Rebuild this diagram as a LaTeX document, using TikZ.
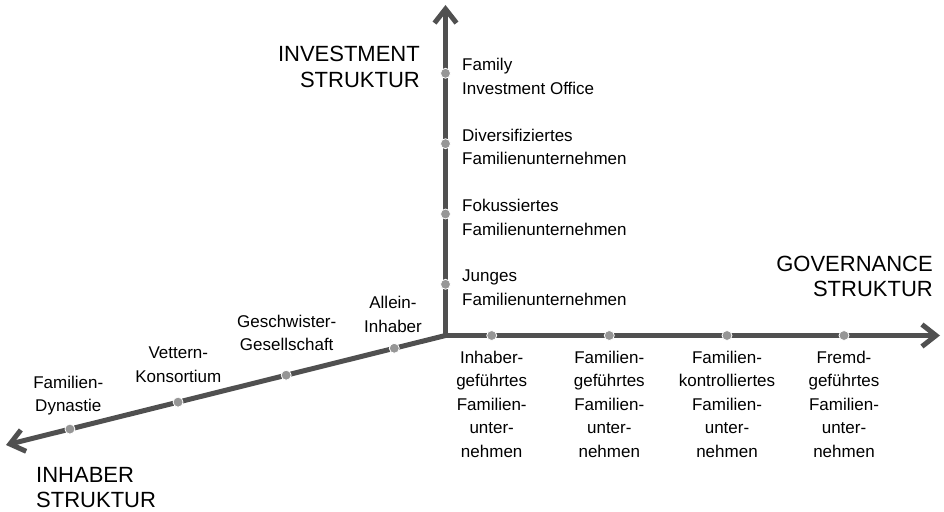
\documentclass[tikz,border=0pt]{standalone}
\usepackage{fontspec}
\setmainfont{Liberation Sans}
\usetikzlibrary{arrows.meta,calc}
\definecolor{axisgray}{RGB}{80,80,80}
\definecolor{dotgray}{RGB}{150,150,150}
\begin{document}
\begin{tikzpicture}[x=1pt,y=-1pt,
  axisline/.style={draw=axisgray,line width=5pt,
    -{Straight Barb[length=14pt,width=22pt,line width=5pt]}},
  axisdot/.style={circle,fill=dotgray,draw=white,line width=0.8pt,minimum size=10pt,inner sep=0pt},
  lbl/.style={inner sep=0pt,font=\fontsize{17}{23.5}\selectfont},
  ttl/.style={inner sep=0pt,font=\fontsize{22}{25}\selectfont},
]
\useasboundingbox (0,0) rectangle (944,511);
\coordinate (O) at (445.5,335.5);
\coordinate (T) at (445.5,5);
\coordinate (R) at (940,335.5);
\coordinate (L) at (6,445);
\draw[axisline] (O) -- (T);
\draw[axisline] (O) -- (R);
\draw[axisline] (O) -- (L);
\fill[axisgray] (443,333) rectangle (448,338);
% vertical dots
\node[axisdot] (v1) at (445.5,284.3) {};
\node[axisdot] (v2) at (445.5,214) {};
\node[axisdot] (v3) at (445.5,143.7) {};
\node[axisdot] (v4) at (445.5,73.3) {};
% horizontal dots
\node[axisdot] (h1) at (491.7,335.5) {};
\node[axisdot] (h2) at (609.3,335.5) {};
\node[axisdot] (h3) at (727,335.5) {};
\node[axisdot] (h4) at (844,335.5) {};
% diagonal dots
\node[axisdot] (d1) at ($(O)!0.1165!(L)$) {};
\node[axisdot] (d2) at ($(O)!0.3625!(L)$) {};
\node[axisdot] (d3) at ($(O)!0.6085!(L)$) {};
\node[axisdot] (d4) at ($(O)!0.8545!(L)$) {};
% vertical labels (base = last line)
\node[lbl,anchor=base west,align=left] (vl1) at (462,305.3) {Junges\\Familienunternehmen};
\node[lbl,anchor=base west,align=left] (vl2) at (462,235) {Fokussiertes\\Familienunternehmen};
\node[lbl,anchor=base west,align=left] (vl3) at (462,164.7) {Diversifiziertes\\Familienunternehmen};
\node[lbl,anchor=base west,align=left] (vl4) at (462,94.3) {Family\\Investment Office};
% horizontal labels
\node[lbl,anchor=base,align=center] (hl1) at (491.7,457) {Inhaber-\\geführtes\\Familien-\\unter-\\nehmen};
\node[lbl,anchor=base,align=center] (hl2) at (609.3,457) {Familien-\\geführtes\\Familien-\\unter-\\nehmen};
\node[lbl,anchor=base,align=center] (hl3) at (727,457) {Familien-\\kontrolliertes\\Familien-\\unter-\\nehmen};
\node[lbl,anchor=base,align=center] (hl4) at (844,457) {Fremd-\\geführtes\\Familien-\\unter-\\nehmen};
% diagonal labels
\node[lbl,anchor=base,align=center] (dl1) at (393,332.3) {Allein-\\Inhaber};
\node[lbl,anchor=base,align=center] (dl2) at (286.7,350.5) {Geschwister-\\Gesellschaft};
\node[lbl,anchor=base,align=center] (dl3) at (178.3,382) {Vettern-\\Konsortium};
\node[lbl,anchor=base,align=center] (dl4) at (68.3,411.5) {Familien-\\Dynastie};
% titles
\node[ttl,anchor=base east,align=right] (t1) at (420,87) {INVESTMENT\\STRUKTUR};
\node[ttl,anchor=base east,align=right] (t2) at (933,296.7) {GOVERNANCE\\STRUKTUR};
\node[ttl,anchor=base west,align=left] (t3) at (36,507) {INHABER\\STRUKTUR};
\end{tikzpicture}
\end{document}
